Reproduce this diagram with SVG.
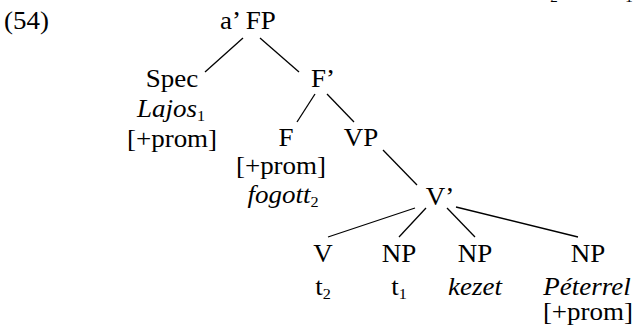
<svg xmlns="http://www.w3.org/2000/svg" width="634" height="326" viewBox="0 0 634 326">
<style>
text{font-family:"Liberation Serif","Times New Roman",serif;font-size:25px;fill:#000;text-anchor:middle}
.l{text-anchor:start}
.i{font-style:italic}
.s{font-size:15px;font-style:normal}
line{stroke:#000;stroke-width:1.3}
</style>
<rect width="634" height="326" fill="#fff"/>
<g id="clipped-top">
<text x="554" y="2" class="s">2</text>
<text x="629" y="2" class="s">1</text>
</g>
<g id="connectors">
<line x1="243" y1="38" x2="205" y2="72"/>
<line x1="260" y1="38" x2="299" y2="72"/>
<line x1="315" y1="94" x2="297" y2="122"/>
<line x1="327" y1="94" x2="354" y2="122"/>
<line x1="383" y1="150" x2="417" y2="185"/>
<line x1="415" y1="208" x2="328" y2="237"/>
<line x1="426" y1="208" x2="399" y2="237"/>
<line x1="447" y1="208" x2="475" y2="237"/>
<line x1="456" y1="207" x2="578" y2="237"/>
</g>
<g transform="scale(1.08,1)">
<g id="example-number"><text class="l" x="3.7" y="29">(54)</text></g>
<g id="FP"><text x="229.6" y="29">a’ FP</text></g>
<g id="Spec">
<text x="159.3" y="87">Spec</text>
<text x="158.3" y="117"><tspan class="i">Lajos</tspan><tspan class="s" dy="4">1</tspan></text>
<text x="159.3" y="147">[+prom]</text>
</g>
<g id="Fbar"><text x="299.1" y="87">F’</text></g>
<g id="F">
<text x="264.8" y="146">F</text>
<text x="260.2" y="174">[+prom]</text>
<text x="262" y="203"><tspan class="i">fogott</tspan><tspan class="s" dy="4">2</tspan></text>
</g>
<g id="VP"><text x="334.3" y="146">VP</text></g>
<g id="Vbar"><text x="407.4" y="205">V’</text></g>
<g id="V">
<text x="299.1" y="262">V</text>
<text x="299.1" y="295">t<tspan class="s" dy="4">2</tspan></text>
</g>
<g id="NP1">
<text x="369.4" y="262">NP</text>
<text x="369.4" y="295">t<tspan class="s" dy="4">1</tspan></text>
</g>
<g id="NP2">
<text x="439.8" y="262">NP</text>
<text x="439.8" y="295" class="i">kezet</text>
</g>
<g id="NP3">
<text x="544.4" y="262">NP</text>
<text x="543.5" y="295" class="i">Péterrel</text>
<text x="544.4" y="320">[+prom]</text>
</g>
</g>
</svg>
